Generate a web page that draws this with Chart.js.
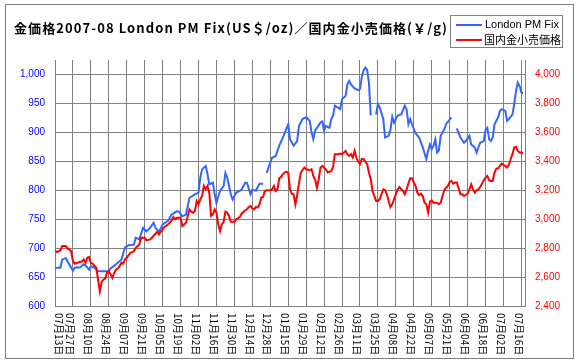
<!DOCTYPE html>
<html>
<head>
<meta charset="utf-8">
<script src="https://cdn.jsdelivr.net/npm/chart.js@4"></script>
<style>
html, body { margin: 0; padding: 0; background: #fff; }
canvas { display: block; background: #fff; }
</style>
</head>
<body>
<canvas id="grafico" width="580" height="362"></canvas>
<script>
// ======================================
// DATOS
// ======================================

const titulo = "金価格2007-08 London PM Fix(US＄/oz)／国内金小売価格(￥/g)";
const nombreUsd = "London PM Fix";
const nombreYen = "国内金小売価格";

// etiquetas del eje x, una cada 10 dias de mercado
const dateLabels = [
  "07月13日", "07月27日", "08月10日", "08月24日", "09月07日", "09月21日", "10月05日",
  "10月19日", "11月02日", "11月16日", "11月30日", "12月14日", "12月28日", "01月15日",
  "01月29日", "02月12日", "02月26日", "03月11日", "03月25日", "04月08日", "04月22日",
  "05月07日", "05月21日", "06月04日", "06月18日", "07月02日", "07月16日"
];

// London PM Fix (US$/oz) - dia de mercado / precio
const usdDays = [
  0, 3, 4, 6, 7, 10, 11, 14, 16, 17, 19, 20, 22, 24, 27, 30, 31, 34, 37, 39,
  41, 44, 45, 47, 49, 51, 53, 55, 56, 58, 60, 63, 65, 68, 69, 71, 73, 75, 78, 80,
  81, 82, 84, 85, 86, 88, 89, 90, 92, 94, 95, 96, 98, 99, 101, 103, 104, 106, 107, 109,
  110, 112, 114, 116, 117, 118, 119, 121, 123, 125, 127, 130, 131, 133, 135, 136, 138, 140, 142, 143,
  144, 145, 148, 149, 150, 151, 153, 154, 155, 156, 159, 160, 162, 163, 164, 165, 167, 169, 170, 171,
  172, 173, 174, 175, 176, 177, 179, 180, 181, 183, 184, 186, 187, 188, 189, 191, 193, 195, 196, 197,
  198, 199, 201, 203, 205, 207, 208, 209, 210, 211, 212, 213, 214, 215, 217, 218, 221, 222, 224, 226,
  228, 229, 231, 232, 234, 235, 237, 239, 240, 241, 242, 243, 244, 245, 247, 248, 249, 251, 252, 253,
  255, 256, 257, 258, 259, 260, 261
];
const usdPrices = [
  666, 666, 680, 683, 677, 661, 666, 667, 672, 670, 663, 669, 666, 660, 660, 660, 665, 672, 680, 701,
  705, 706, 718, 715, 735, 729, 735, 744, 735, 728, 741, 747, 758, 764, 763, 755, 758, 787, 793, 796,
  822, 836, 842, 828, 810, 813, 793, 778, 799, 807, 830, 822, 793, 784, 796, 799, 801, 813, 813, 793,
  801, 799, 811, 811, null, 830, 839, 856, 859, 877, 891, 914, 888, 877, 885, 911, 923, 926, 920, 900,
  888, 903, 917, 919, 903, 911, 908, 923, 929, 946, 940, 957, 963, 983, 989, 983, 976, 973, 975, 995,
  1007, 1012, 1008, 986, 929, null, 931, 949, 943, 923, 891, 894, 905, 927, 917, 929, 931, 946, 940, 914,
  923, 914, 898, 891, 874, 854, 868, 879, 871, 877, 888, 865, 869, 894, 905, 914, 926, null, 907, 891,
  882, 885, 894, 879, 874, 865, 882, 885, 905, 908, 888, 885, 891, 914, 926, 937, 940, 937, 920, 923,
  931, 949, 972, 986, 980, 969, 967
];

// 国内金小売価格 (円/g) - dia de mercado / precio
const yenDays = [
  0, 1, 3, 4, 6, 7, 9, 10, 11, 14, 15, 16, 17, 18, 19, 20, 21, 23, 24, 25,
  26, 27, 28, 29, 30, 31, 32, 33, 34, 35, 36, 37, 38, 39, 40, 42, 43, 44, 45, 47,
  48, 50, 51, 53, 54, 56, 57, 58, 59, 61, 62, 64, 65, 66, 67, 68, 70, 71, 72, 73,
  74, 75, 76, 77, 78, 79, 80, 81, 82, 83, 84, 85, 86, 87, 88, 89, 90, 91, 92, 93,
  94, 95, 96, 97, 98, 100, 101, 103, 104, 106, 107, 108, 109, 110, 111, 112, 113, 114, 115, 116,
  117, 118, 120, 121, 122, 123, 124, 125, 126, 127, 128, 129, 130, 131, 132, 133, 134, 135, 136, 137,
  139, 140, 142, 143, 144, 145, 146, 147, 148, 149, 151, 152, 154, 155, 156, 158, 159, 160, 161, 162,
  163, 164, 165, 166, 167, 168, 169, 170, 171, 172, 173, 174, 175, 176, 177, 178, 179, 180, 181, 182,
  183, 184, 185, 186, 187, 188, 189, 190, 191, 192, 193, 194, 195, 196, 197, 198, 199, 200, 201, 202,
  203, 204, 205, 206, 207, 208, 209, 210, 211, 213, 214, 215, 216, 217, 218, 219, 220, 221, 222, 223,
  224, 225, 226, 227, 228, 229, 230, 231, 232, 233, 234, 235, 236, 237, 238, 239, 240, 241, 242, 243,
  244, 245, 246, 247, 248, 249, 250, 251, 252, 253, 254, 255, 256, 257, 258, 259, 260, 261
];
const yenPrices = [
  2784, 2772, 2784, 2814, 2814, 2798, 2779, 2710, 2692, 2705, 2705, 2722, 2698, 2733, 2738, 2698, 2692, 2664, 2583, 2502,
  2567, 2583, 2590, 2629, 2641, 2618, 2595, 2629, 2652, 2659, 2675, 2698, 2692, 2722, 2733, 2768, 2772, 2779, 2802, 2825,
  2872, 2872, 2853, 2860, 2872, 2899, 2913, 2895, 2913, 2946, 2953, 2976, 2992, 3015, 2999, 3010, 3010, 2952, 2964, 2976,
  3022, 3068, 3052, 3045, 3057, 3126, 3103, 3137, 3160, 3230, 3206, 3230, 3183, 3022, 3033, 3068, 3045, 2964, 2918, 2964,
  2982, 3052, 3045, 3022, 2982, 2982, 2999, 3015, 3038, 3061, 3068, 3084, 3091, 3075, 3068, 3084, 3080, 3103, 3149, 3153,
  3195, 3200, 3200, 3206, 3229, 3195, 3206, 3283, 3292, 3310, 3322, 3329, 3322, 3205, 3176, 3172, 3102, 3167, 3246, 3322,
  3357, 3345, 3338, 3345, 3299, 3276, 3218, 3276, 3357, 3368, 3345, 3322, 3333, 3361, 3449, 3449, 3453, 3449, 3460, 3472,
  3449, 3437, 3449, 3426, 3472, 3426, 3398, 3380, 3415, 3415, 3398, 3380, 3322, 3276, 3195, 3160, 3126, 3126, 3137, 3172,
  3206, 3200, 3172, 3126, 3084, 3103, 3137, 3172, 3206, 3222, 3206, 3195, 3172, 3206, 3246, 3283, 3283, 3253, 3229, 3183,
  3167, 3176, 3160, 3114, 3103, 3045, 3121, 3130, 3114, 3114, 3103, 3114, 3160, 3200, 3218, 3229, 3257, 3264, 3245, 3253,
  3253, 3214, 3172, 3172, 3160, 3167, 3176, 3206, 3241, 3206, 3183, 3199, 3206, 3222, 3245, 3269, 3287, 3299, 3269, 3264,
  3264, 3322, 3350, 3352, 3368, 3384, 3375, 3368, 3357, 3375, 3414, 3449, 3495, 3500, 3472, 3460, 3460, 3453
];

const azul = "rgb(51,102,255)";
const rojo = "#ff0000";
const gris = "#808080";


// ======================================
// DECORADO: marco, titulo, leyenda, fechas
// ======================================

const decorado = {
  id: "decorado",
  afterDraw(chart) {
    const ctx = chart.ctx;
    const xs = chart.scales.x;
    ctx.save();

    // marco exterior
    ctx.strokeStyle = gris;
    ctx.lineWidth = 1;
    ctx.strokeRect(5.5, 4.5, 568, 354);

    // titulo
    ctx.fillStyle = "#000";
    ctx.font = 'bold 13px "Noto Sans CJK JP"';
    ctx.textBaseline = "middle";
    ctx.textAlign = "left";
    const w = ctx.measureText(titulo).width;
    if (w < 433) ctx.letterSpacing = ((433 - w) / (titulo.length - 1)) + "px";
    ctx.fillText(titulo, 14, 28);
    ctx.letterSpacing = "0px";

    // leyenda
    ctx.strokeStyle = gris;
    ctx.strokeRect(450.5, 15.5, 112, 32);
    ctx.lineWidth = 2;
    ctx.strokeStyle = azul;
    ctx.beginPath(); ctx.moveTo(456, 25); ctx.lineTo(482, 25); ctx.stroke();
    ctx.strokeStyle = rojo;
    ctx.beginPath(); ctx.moveTo(456, 40); ctx.lineTo(482, 40); ctx.stroke();
    ctx.fillStyle = "#000";
    ctx.font = '11px "Liberation Sans"';
    ctx.fillText(nombreUsd, 485, 25);
    ctx.font = '11px "Noto Sans CJK JP"';
    ctx.fillText(nombreYen, 484, 40);

    // fechas en vertical
    ctx.font = '10px "Noto Sans CJK JP"';
    dateLabels.forEach((t, i) => {
      const px = Math.max(xs.getPixelForValue(i * 10) - 3, xs.left + 4);
      ctx.save();
      ctx.translate(px, xs.top + 7);
      ctx.rotate(Math.PI / 2);
      ctx.textAlign = "left";
      ctx.textBaseline = "middle";
      ctx.fillText(t, 0, 0);
      ctx.restore();
    });

    ctx.restore();
  }
};


// ======================================
// GRAFICO
// ======================================

new Chart(document.getElementById("grafico"), {
  type: "line",
  data: {
    datasets: [
      {
        label: nombreYen,
        data: yenDays.map((d, i) => ({ x: d, y: yenPrices[i] })),
        yAxisID: "y1",
        borderColor: rojo,
        borderWidth: 2,
        pointRadius: 0,
        tension: 0,
        order: 0
      },
      {
        label: nombreUsd,
        data: usdDays.map((d, i) => ({ x: d, y: usdPrices[i] })),
        yAxisID: "y",
        borderColor: azul,
        borderWidth: 2,
        pointRadius: 0,
        tension: 0,
        spanGaps: false,
        order: 1
      }
    ]
  },
  options: {
    responsive: false,
    animation: false,
    layout: { padding: { top: 60, left: 0, right: 0, bottom: 0 } },
    plugins: { legend: { display: false }, tooltip: { enabled: false } },
    scales: {
      x: {
        type: "linear",
        min: 0,
        max: 262,
        ticks: { display: false },
        grid: { color: gris, lineWidth: 1, drawTicks: false },
        border: { color: gris },
        afterBuildTicks: s => { s.ticks = dateLabels.map((_, i) => ({ value: i * 10 })); },
        afterFit: s => { s.height = 56; }
      },
      y: {
        position: "left",
        min: 600,
        max: 1025,
        ticks: {
          stepSize: 25,
          color: "#0000ff",
          padding: 10,
          font: { family: "Liberation Sans", size: 10 },
          callback: v => v.toLocaleString("en-US")
        },
        grid: { color: gris, lineWidth: 1, drawTicks: false },
        border: { color: gris },
        afterFit: s => { s.width = 55; }
      },
      y1: {
        position: "right",
        min: 2400,
        max: 4100,
        ticks: {
          stepSize: 100,
          color: "#ff0000",
          padding: 10,
          font: { family: "Liberation Sans", size: 10 },
          callback: v => v.toLocaleString("en-US")
        },
        grid: { drawOnChartArea: false, drawTicks: false },
        border: { color: gris },
        afterFit: s => { s.width = 55; }
      }
    }
  },
  plugins: [decorado]
});
</script>
</body>
</html>
